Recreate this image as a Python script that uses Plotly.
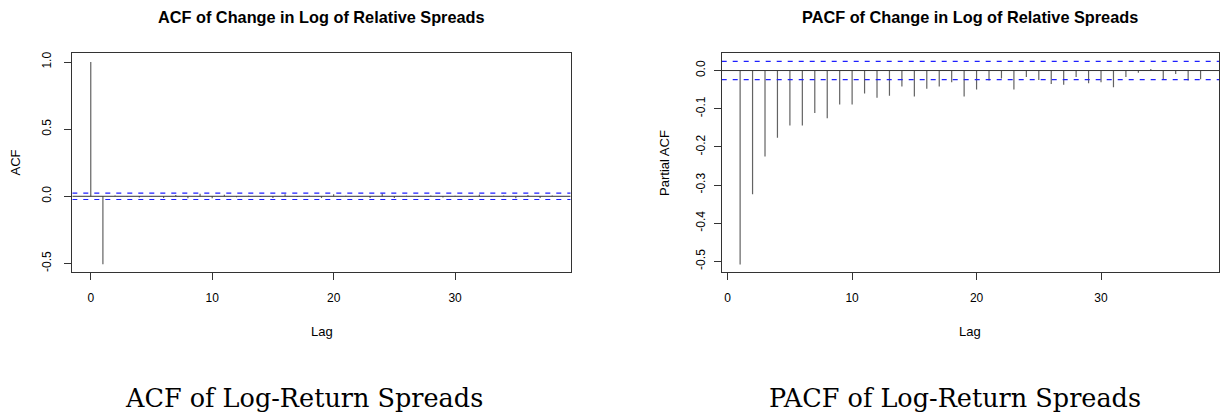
import plotly.graph_objects as go

W, H = 1221, 416

# ---------------- data ----------------
acf_lags = list(range(0, 39))
acf_values = [1.0, -0.507, 0.006, -0.004, -0.010, 0.003, -0.012, 0.010, -0.014, 0.018,
              -0.015, 0.012, -0.008, 0.004, -0.006, -0.012, 0.015, -0.005, 0.004, -0.012,
              0.016, 0.004, -0.003, -0.012, 0.020, -0.013, 0.004, -0.005, 0.006, -0.010,
              0.004, -0.003, 0.014, -0.004, 0.006, -0.014, 0.010, -0.012, 0.005]

pacf_lags = list(range(1, 39))
pacf_values = [-0.508, -0.324, -0.225, -0.176, -0.144, -0.144, -0.111, -0.125, -0.089, -0.089,
               -0.060, -0.071, -0.066, -0.042, -0.068, -0.048, -0.042, -0.031, -0.068, -0.050,
               -0.026, -0.021, -0.050, -0.017, -0.025, -0.035, -0.037, -0.017, -0.033, -0.031,
               -0.044, -0.017, -0.006, 0.004, -0.023, -0.009, -0.026, -0.023]

conf_bound = 0.024

x_tick_vals = [0, 10, 20, 30]
x_tick_text = ["0", "10", "20", "30"]
acf_y_tick_vals = [-0.5, 0.0, 0.5, 1.0]
acf_y_tick_text = ["-0.5", "0.0", "0.5", "1.0"]
pacf_y_tick_vals = [-0.5, -0.4, -0.3, -0.2, -0.1, 0.0]
pacf_y_tick_text = ["-0.5", "-0.4", "-0.3", "-0.2", "-0.1", "0.0"]

acf_title = "ACF of Change in Log of Relative Spreads"
pacf_title = "PACF of Change in Log of Relative Spreads"
acf_caption = "ACF of Log-Return Spreads"
pacf_caption = "PACF of Log-Return Spreads"

acf_xrange = [-1.52, 39.52]
acf_yrange = [-0.567, 1.064]
pacf_xrange = [-0.48, 39.48]
pacf_yrange = [-0.529, 0.0448]

# ---------------- helpers ----------------
def px_x(p):
    return p / W

def px_y(p):
    return 1 - p / H

def stems(lags, vals):
    xs, ys = [], []
    for l, v in zip(lags, vals):
        xs += [l, l, None]
        ys += [0, v, None]
    return xs, ys

SANS = "Liberation Sans, Arial, Helvetica, sans-serif"
SERIF = "DejaVu Serif, Liberation Serif, serif"
STEM_COLOR = "#636363"
FRAME_COLOR = "#333333"
BLUE = "rgb(30,30,255)"

fig = go.Figure()

for xa, ya, xr, lags, vals in [("x", "y", acf_xrange, acf_lags, acf_values),
                               ("x2", "y2", pacf_xrange, pacf_lags, pacf_values)]:
    sx, sy = stems(lags, vals)
    fig.add_trace(go.Scatter(x=sx, y=sy, mode="lines", line=dict(color=STEM_COLOR, width=1.2),
                             xaxis=xa, yaxis=ya, showlegend=False, hoverinfo="skip"))
    fig.add_trace(go.Scatter(x=xr, y=[0, 0], mode="lines", line=dict(color=FRAME_COLOR, width=1),
                             xaxis=xa, yaxis=ya, showlegend=False, hoverinfo="skip"))
    for b in (conf_bound, -conf_bound):
        fig.add_trace(go.Scatter(x=xr, y=[b, b], mode="lines",
                                 line=dict(color=BLUE, width=1.2, dash="5px,6px"),
                                 xaxis=xa, yaxis=ya, showlegend=False, hoverinfo="skip"))

axis_common = dict(showline=True, mirror=True, linecolor=FRAME_COLOR, linewidth=1.2,
                   ticks="outside", ticklen=7, tickcolor=FRAME_COLOR, tickwidth=1,
                   showgrid=False, zeroline=False,
                   tickfont=dict(family=SANS, size=12, color="black"))

acf_x0, acf_x1 = 72.3, 570.7
pacf_x0, pacf_x1 = 721.7, 1219.0
top, bottom = 51.7, 271.7

fig.update_layout(
    width=W, height=H,
    margin=dict(l=0, r=0, t=0, b=0),
    paper_bgcolor="white", plot_bgcolor="white",
    xaxis=dict(domain=[px_x(acf_x0), px_x(acf_x1)], anchor="y", range=acf_xrange,
               tickvals=x_tick_vals, ticktext=x_tick_text, ticklabelstandoff=7, **axis_common),
    yaxis=dict(domain=[px_y(bottom), px_y(top)], anchor="x", range=acf_yrange,
               tickvals=acf_y_tick_vals, ticktext=acf_y_tick_text, tickangle=-90,
               ticklabelstandoff=8, **axis_common),
    xaxis2=dict(domain=[px_x(pacf_x0), px_x(pacf_x1)], anchor="y2", range=pacf_xrange,
                tickvals=x_tick_vals, ticktext=x_tick_text, ticklabelstandoff=7, **axis_common),
    yaxis2=dict(domain=[px_y(bottom), px_y(top)], anchor="x2", range=pacf_yrange,
                tickvals=pacf_y_tick_vals, ticktext=pacf_y_tick_text, tickangle=-90,
                ticklabelstandoff=4, **axis_common),
)

ann = []
for x0, x1, title, ylab, cap_x, cap in [
    (acf_x0, acf_x1, acf_title, "ACF", 303.5, acf_caption),
    (pacf_x0, pacf_x1, pacf_title, "Partial ACF", 955, pacf_caption),
]:
    cx = (x0 + x1) / 2
    ann.append(dict(text=title, x=px_x(cx), y=px_y(15), xref="paper", yref="paper",
                    xanchor="center", yanchor="middle", showarrow=False,
                    font=dict(family=SANS, size=16.3, color="black", weight="bold")))
    ann.append(dict(text="Lag", x=px_x(cx), y=px_y(331.5), xref="paper", yref="paper",
                    xanchor="center", yanchor="middle", showarrow=False,
                    font=dict(family=SANS, size=13, color="black")))
    ann.append(dict(text=ylab, x=px_x(x0 - 56.7), y=px_y((top + bottom) / 2), xref="paper",
                    yref="paper", xanchor="center", yanchor="middle", showarrow=False,
                    textangle=-90, font=dict(family=SANS, size=13, color="black")))
    ann.append(dict(text=cap, x=px_x(cap_x), y=px_y(398), xref="paper", yref="paper",
                    xanchor="center", yanchor="middle", showarrow=False,
                    font=dict(family=SERIF, size=25.5, color="black")))
fig.update_layout(annotations=ann)

fig.write_html("out.html")
